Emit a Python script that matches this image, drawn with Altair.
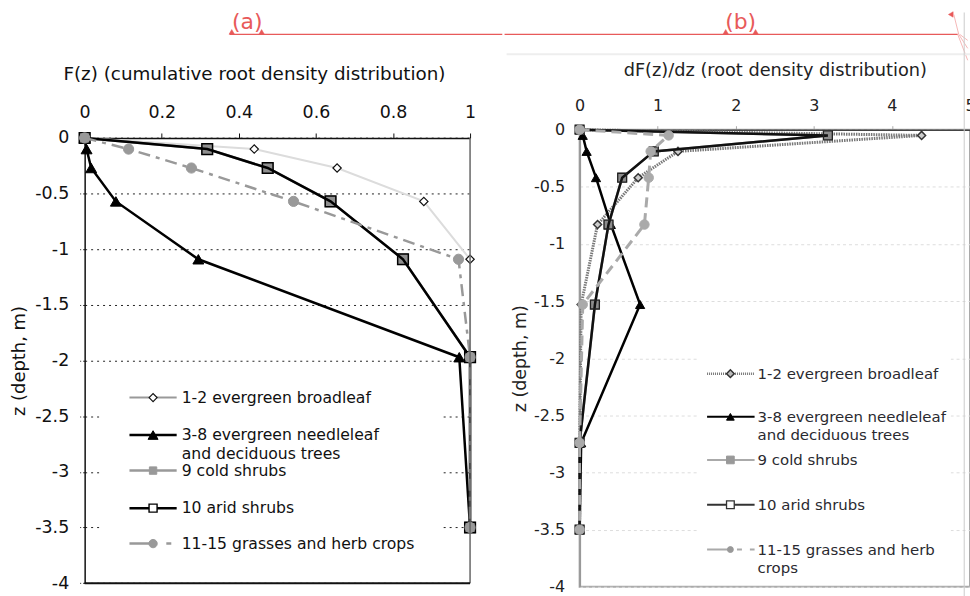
import altair as alt
import pandas as pd

FONT = "DejaVu Sans"

# ---------------- data ----------------
NAMES = ["1-2 evergreen broadleaf", "3-8 evergreen needleleaf", "9 cold shrubs",
         "10 arid shrubs", "11-15 grasses and herb crops"]
LEFT_LABELS = ["1-2 evergreen broadleaf", "3-8 evergreen needleleaf\nand deciduous trees",
               "9 cold shrubs", "10 arid shrubs", "11-15 grasses and herb crops"]
RIGHT_LABELS = ["1-2 evergreen broadleaf", "3-8 evergreen needleleaf\nand deciduous trees",
                "9 cold shrubs", "10 arid shrubs", "11-15 grasses and herb\ncrops"]

F_TICKS = [0, 0.2, 0.4, 0.6, 0.8, 1]
DF_TICKS = [0, 1, 2, 3, 4, 5]
Z_TICKS = [0, -0.5, -1, -1.5, -2, -2.5, -3, -3.5, -4]

depth_F = [0, -0.1, -0.27, -0.57, -1.09, -1.97, -3.5]
F_broadleaf = [0, 0.44, 0.655, 0.88, 1.0, 1.0, 1.0]
F_needleleaf = [0, 0.005, 0.017, 0.081, 0.295, 0.972, 1.0]
F_cold = [0, 0.318, 0.475, 0.638, 0.826, 1.0, 1.0]
F_arid = [0, 0.318, 0.475, 0.638, 0.826, 1.0, 1.0]
F_grass = [0, 0.114, 0.277, 0.542, 0.97, 1.0, 1.0]

depth_dF = [0, -0.05, -0.19, -0.42, -0.83, -1.53, -2.74, -3.5]
dF_broadleaf = [0, 4.38, 1.26, 0.75, 0.23, 0.02, 0.0, 0.0]
dF_needleleaf = [0, 0.04, 0.09, 0.21, 0.40, 0.775, 0.02, 0.0]
dF_cold = [0, 3.18, 0.95, 0.545, 0.37, 0.196, 0.0, 0.0]
dF_arid = [0, 3.18, 0.95, 0.545, 0.37, 0.196, 0.0, 0.0]
dF_grass = [0, 1.14, 0.91, 0.885, 0.83, 0.04, 0.0, 0.0]


def long_df(depths, cols):
    rows = []
    for name, vals in zip(NAMES, cols):
        for i, (d, v) in enumerate(zip(depths, vals)):
            rows.append({"series": name, "i": i, "z": d, "v": v})
    return pd.DataFrame(rows)


dfL = long_df(depth_F, [F_broadleaf, F_needleleaf, F_cold, F_arid, F_grass])
dfR = long_df(depth_dF, [dF_broadleaf, dF_needleleaf, dF_cold, dF_arid, dF_grass])

one = pd.DataFrame({"k": [0]})


# ---------------- helpers ----------------
def vrule(x1, x2, y1, y2, color, width, dash=None, opacity=1):
    kw = dict(color=color, strokeWidth=width, opacity=opacity)
    if dash:
        kw["strokeDash"] = dash
    return alt.Chart(one).mark_rule(**kw).encode(
        x=alt.value(x1), x2=alt.value(x2), y=alt.value(y1), y2=alt.value(y2))


def vtext(x, y, txt, size, color, align="left", baseline="middle"):
    return alt.Chart(pd.DataFrame({"t": [txt]})).mark_text(
        fontSize=size, color=color, align=align, baseline=baseline, font=FONT
    ).encode(x=alt.value(x), y=alt.value(y), text="t:N")


def vpoint(x, y, pt):
    return alt.Chart(one).mark_point(opacity=1, **pt).encode(x=alt.value(x), y=alt.value(y))


def vrect(x1, x2, y1, y2):
    return alt.Chart(one).mark_rect(color="white").encode(
        x=alt.value(x1), x2=alt.value(x2), y=alt.value(y1), y2=alt.value(y2))


def series_layers(df, name, x_enc, y_enc, line_kw, pt_kw):
    d = df[df.series == name]
    base = alt.Chart(d)
    return [
        base.mark_line(**line_kw).encode(x=x_enc, y=y_enc, order="i:Q"),
        base.mark_point(opacity=1, **pt_kw).encode(x=x_enc, y=y_enc),
    ]


LABEL_EXPR = "datum.value + ''"
RED = "#e85a5a"
PINK = "#f2a5a5"

# absolute page frame: canvas 0..1000 x 0..620, cropped by negative padding
OXL, OYL = 84.3, 127.7     # left group origin (plot top is DY lower)
DY = 8.3
OXR, OYR = 580.3, 127.7    # right group origin = right plot origin

# ---------------- left panel ----------------
WL, HL = 387, 447

xL = alt.X("v:Q", scale=alt.Scale(domain=[0, 1], nice=False, zero=False),
           axis=alt.Axis(orient="top", offset=-DY, values=F_TICKS, labelExpr=LABEL_EXPR,
                         domainColor="#111", domainWidth=1.5, tickColor="#111", tickSize=5,
                         labelFontSize=17.5, labelColor="#111", labelPadding=12, labelFlush=False,
                         title="F(z) (cumulative root density distribution)", titleX=170,
                         titleFontSize=18.4, titleFontWeight="normal", titleColor="#111",
                         titlePadding=20, grid=False))
yL = alt.Y("z:Q", scale=alt.Scale(domain=[-4, 0], range=[HL + DY, DY], nice=False, zero=False),
           axis=alt.Axis(values=Z_TICKS, labelExpr=LABEL_EXPR, domainColor="#111", domainWidth=1.5,
                         tickColor="#222", tickSize=5, tickDash=[2, 2],
                         grid=True, gridColor="#222", gridDash=[2, 4], gridWidth=1,
                         labelFontSize=17.5, labelColor="#111", labelPadding=11, labelFlush=False,
                         title="z (depth, m)", titleFontSize=18, titleFontWeight="normal",
                         titleColor="#111", titlePadding=6))

left_line_styles = [
    dict(color="#dcdcdc", strokeWidth=2),
    dict(color="#000000", strokeWidth=2.5),
    dict(color="#999999", strokeWidth=2.5),
    dict(color="#000000", strokeWidth=2.5),
    dict(color="#999999", strokeWidth=2.5, strokeDash=[12, 6, 4, 6]),
]
left_pt_styles = [
    dict(shape="diamond", size=70, fill="white", stroke="#111", strokeWidth=1.2),
    dict(shape="triangle-up", size=120, fill="#000", stroke="#000", strokeWidth=1),
    dict(shape="square", size=115, fill="#8f8f8f", stroke="#8f8f8f", strokeWidth=1),
    dict(shape="square", size=115, fill="transparent", stroke="#000", strokeWidth=1.5),
    dict(shape="circle", size=105, fill="#999999", stroke="#999999", strokeWidth=1),
]
left_leg_line = [
    dict(color="#999999", width=2),
    dict(color="#000000", width=2.5),
    dict(color="#999999", width=2.5),
    dict(color="#000000", width=2.5),
    dict(color="#999999", width=2.5, dash=[27, 10, 5, 10]),
]
left_leg_pt = [
    dict(shape="diamond", size=64, fill="white", stroke="#111", strokeWidth=1.2),
    dict(shape="triangle-up", size=100, fill="#000", stroke="#000", strokeWidth=1),
    dict(shape="square", size=55, fill="#999999", stroke="#999999", strokeWidth=1),
    dict(shape="square", size=65, fill="white", stroke="#000", strokeWidth=1.4),
    dict(shape="circle", size=70, fill="#999999", stroke="#999999", strokeWidth=1),
]
# legend rows in absolute page pixels
left_rows = [396.7, 434.3, 470, 507.7, 543.3]

layersL = [vrule(-OXL, -OXL, -OYL, 620 - OYL, "white", 0.001, opacity=0),
           vrect(100 - OXL, 443 - OXL, 376 - OYL, 562 - OYL)]
for k, name in enumerate(NAMES):
    layersL += series_layers(dfL, name, xL, yL, left_line_styles[k], left_pt_styles[k])
# frame: right (gray) and bottom (black) borders
layersL.append(alt.Chart(one).mark_rule(color="#666", strokeWidth=1.5).encode(
    x=alt.datum(1), y=alt.datum(0), y2=alt.datum(-4)))
layersL.append(alt.Chart(one).mark_rule(color="#111", strokeWidth=2).encode(
    y=alt.datum(-4), x=alt.datum(0), x2=alt.datum(1)))
for k in range(5):
    ll = left_leg_line[k]
    yy = left_rows[k] - OYL
    layersL.append(vrule(129.3 - OXL, 176.7 - OXL, yy, yy, ll["color"], ll["width"], ll.get("dash")))
    layersL.append(vpoint(153 - OXL, yy, left_leg_pt[k]))
    for j, line in enumerate(LEFT_LABELS[k].split("\n")):
        layersL.append(vtext(181.7 - OXL, yy + 19 * j, line, 15.7, "#111"))
# red annotation (a)
layersL.append(vtext(247.5 - OXL, 26.5 - OYL, "(a)", 22, RED, align="center", baseline="alphabetic"))
layersL.append(vrule(230 - OXL, 504.3 - 0.65 - OXL, 32 - OYL, 32 - OYL, RED, 1.3))
layersL.append(vpoint(232 - OXL, 29.5 - OYL, dict(shape="triangle-up", size=30, fill=RED, stroke=RED, strokeWidth=0.5)))
layersL.append(vpoint(262 - OXL, 29.5 - OYL, dict(shape="triangle-up", size=30, fill=RED, stroke=RED, strokeWidth=0.5)))

left = alt.layer(*layersL).properties(
    width=WL, height=HL + DY, view=alt.ViewBackground(stroke="transparent", strokeWidth=0))

# ---------------- right panel ----------------
WR, HR = 392, 459

xR = alt.X("v:Q", scale=alt.Scale(domain=[0, 5], nice=False, zero=False),
           axis=alt.Axis(orient="top", values=DF_TICKS, labelExpr=LABEL_EXPR,
                         domainColor="#444", domainWidth=1.5, tickColor="#aaa", tickSize=4,
                         labelFontSize=16, labelColor="#222", labelPadding=12, labelFlush=False,
                         title="dF(z)/dz (root density distribution)",
                         titleFontSize=17.8, titleFontWeight="normal", titleColor="#222",
                         titlePadding=18, grid=False))
yR = alt.Y("z:Q", scale=alt.Scale(domain=[-4, 0], nice=False, zero=False),
           axis=alt.Axis(values=Z_TICKS, labelExpr=LABEL_EXPR, domainColor="#999", domainWidth=2,
                         ticks=True, tickSize=0,
                         grid=True, gridColor="#dddddd", gridDash=[3, 3], gridWidth=1,
                         labelFontSize=16, labelColor="#222", labelPadding=15, labelFlush=False,
                         title="z (depth, m)", titleFontSize=17.5, titleFontWeight="normal",
                         titleColor="#222", titlePadding=4))

right_line_styles = [
    dict(color="#777777", strokeWidth=3, strokeDash=[1.5, 1]),
    dict(color="#000000", strokeWidth=2.5),
    dict(color="#999999", strokeWidth=2.5),
    dict(color="#111111", strokeWidth=2.5),
    dict(color="#aaaaaa", strokeWidth=3, strokeDash=[10, 6]),
]
right_pt_styles = [
    dict(shape="diamond", size=65, fill="#cccccc", stroke="#333", strokeWidth=1.5),
    dict(shape="triangle-up", size=85, fill="#000", stroke="#000", strokeWidth=1),
    dict(shape="square", size=80, fill="#8c8c8c", stroke="#8c8c8c", strokeWidth=1),
    dict(shape="square", size=80, fill="transparent", stroke="#222", strokeWidth=1.3),
    dict(shape="circle", size=90, fill="#aaaaaa", stroke="#aaaaaa", strokeWidth=1),
]
right_leg_line = [
    dict(color="#777777", width=2.5, dash=[1, 1]),
    dict(color="#000000", width=2),
    dict(color="#aaaaaa", width=2),
    dict(color="#333333", width=2),
    dict(color="#aaaaaa", width=2, dash=[22, 8, 5, 8]),
]
right_leg_pt = [
    dict(shape="diamond", size=60, fill="#bbbbbb", stroke="#333", strokeWidth=1.5),
    dict(shape="triangle-up", size=60, fill="#000", stroke="#000", strokeWidth=1),
    dict(shape="square", size=60, fill="#999999", stroke="#999999", strokeWidth=1),
    dict(shape="square", size=60, fill="white", stroke="#333", strokeWidth=1.3),
    dict(shape="circle", size=35, fill="#999999", stroke="#999999", strokeWidth=1),
]
right_rows = [372.7, 416, 459.3, 504.3, 549.3]

layersR = [vrule(1000 - OXR, 1000 - OXR, -OYR, 620 - OYR, "white", 0.001, opacity=0),
           vrect(700 - OXR, 953 - OXR, 340 - OYR, 583 - OYR)]
for k, name in enumerate(NAMES):
    layersR += series_layers(dfR, name, xR, yR, right_line_styles[k], right_pt_styles[k])
for k in range(5):
    ll = right_leg_line[k]
    yy = right_rows[k] - OYR
    layersR.append(vrule(708.3 - OXR, 756 - OXR, yy, yy, ll["color"], ll["width"], ll.get("dash")))
    layersR.append(vpoint(731.7 - OXR, yy, right_leg_pt[k]))
    for j, line in enumerate(RIGHT_LABELS[k].split("\n")):
        layersR.append(vtext(759 - OXR, yy + 18.3 * j, line, 15, "#2a2a30"))
# red annotation (b) and markup strokes at the top right
layersR.append(vtext(742 - OXR, 26.5 - OYR, "(b)", 22, RED, align="center", baseline="alphabetic"))
layersR.append(vrule(504.3 + 0.65 - OXR, 960 - OXR, 32 - OYR, 32 - OYR, RED, 1.3))
layersR.append(vpoint(727 - OXR, 29.5 - OYR, dict(shape="triangle-up", size=30, fill=RED, stroke=RED, strokeWidth=0.5)))
layersR.append(vpoint(757 - OXR, 29.5 - OYR, dict(shape="triangle-up", size=30, fill=RED, stroke=RED, strokeWidth=0.5)))
layersR.append(vpoint(953 - OXR, 12 - OYR, dict(shape="triangle-left", size=30, fill=RED, stroke=RED, strokeWidth=0.5)))
layersR.append(vrule(956 - OXR, 961 - OXR, 12 - OYR, 32 - OYR, PINK, 0.8))
layersR.append(vrule(960 - OXR, 970 - OXR, 32 - OYR, 58 - OYR, PINK, 0.8))
layersR.append(vrule(961 - OXR, 970 - OXR, 32 - OYR, 46 - OYR, PINK, 0.8))
layersR.append(vrule(962 - OXR, 970 - OXR, 32 - OYR, 38 - OYR, PINK, 0.8))
layersR.append(vrule(507 - OXR, 1000 - OXR, 52 - OYR, 52 - OYR, "#eeeeee", 2))
layersR.append(vrule(966.5 - OXR, 966.5 - OXR, 10 - OYR, 596 - OYR, "#cccccc", 1))

right = alt.layer(*layersR).properties(
    width=WR, height=HR, view=alt.ViewBackground(stroke="#aaaaaa", strokeWidth=2))

chart = alt.hconcat(left, right, spacing=0, bounds="full").properties(
    padding={"left": 0, "top": 0, "right": -30, "bottom": -24}
).configure(font=FONT).configure_view(fill="white")

chart.save("out.html", embed_options={"renderer": "svg", "actions": False})
